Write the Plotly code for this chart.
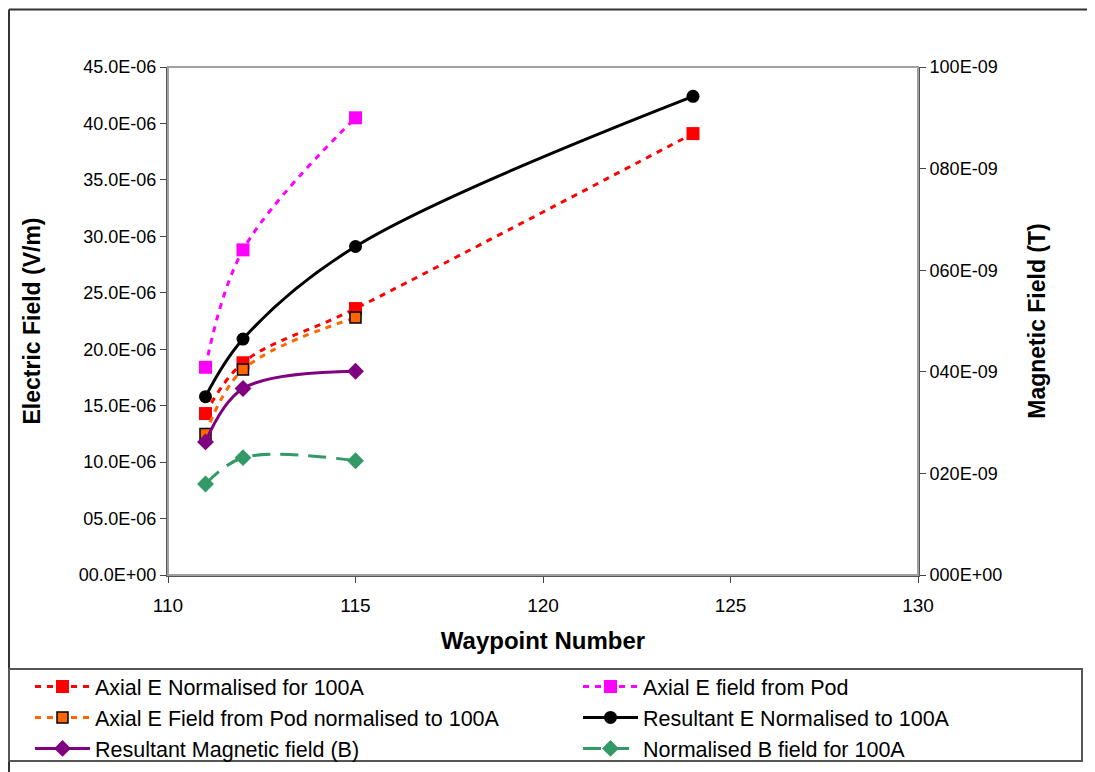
import plotly.graph_objects as go

# waypoints and electric field values (V/m), left axis
wp_axial_norm = [111, 112, 115, 124]
axial_norm = [14.3e-6, 18.8e-6, 23.6e-6, 39.1e-6]

wp_axial_pod = [111, 112, 115]
axial_pod = [18.4e-6, 28.8e-6, 40.5e-6]

wp_pod_norm = [111, 112, 115]
pod_norm = [12.5e-6, 18.2e-6, 22.8e-6]

wp_res_e = [111, 112, 115, 124]
res_e = [15.8e-6, 20.9e-6, 29.1e-6, 42.4e-6]

# magnetic field values (T), right axis
wp_res_b = [111, 112, 115]
res_b = [26.2e-9, 36.7e-9, 40.1e-9]

wp_norm_b = [111, 112, 115]
norm_b = [17.9e-9, 23.1e-9, 22.5e-9]

x_ticks = [110, 115, 120, 125, 130]
y_ticks = [i * 5e-6 for i in range(10)]
y_ticklabels = ["00.0E+00", "05.0E-06", "10.0E-06", "15.0E-06", "20.0E-06",
                "25.0E-06", "30.0E-06", "35.0E-06", "40.0E-06", "45.0E-06"]
y2_ticks = [i * 20e-9 for i in range(6)]
y2_ticklabels = ["000E+00", "020E-09", "040E-09", "060E-09", "080E-09", "100E-09"]

FONT = "Liberation Sans, Arial, sans-serif"

fig = go.Figure()

# left legend column: traces 1, 3, 5 / right column: traces 2, 4, 6
fig.add_trace(go.Scatter(
    x=wp_axial_norm, y=axial_norm, name="Axial E Normalised for 100A", legend="legend",
    mode="lines+markers", line=dict(color="#ff0000", width=3, dash="6px,6px", shape="spline"),
    marker=dict(symbol="square", size=13, color="#ff0000"),
))
fig.add_trace(go.Scatter(
    x=wp_axial_pod, y=axial_pod, name="Axial E field from Pod", legend="legend2",
    mode="lines+markers", line=dict(color="#ff00ff", width=3, dash="6px,6px", shape="spline"),
    marker=dict(symbol="square", size=13, color="#ff00ff"),
))
fig.add_trace(go.Scatter(
    x=wp_pod_norm, y=pod_norm, name="Axial E Field from Pod normalised to 100A", legend="legend",
    mode="lines+markers", line=dict(color="#ff6600", width=3, dash="6px,6px", shape="spline"),
    marker=dict(symbol="square", size=11, color="#ff6600", line=dict(color="#000000", width=1.5)),
))
fig.add_trace(go.Scatter(
    x=wp_res_e, y=res_e, name="Resultant E Normalised to 100A", legend="legend2",
    mode="lines+markers", line=dict(color="#000000", width=3, shape="spline"),
    marker=dict(symbol="circle", size=13, color="#000000"),
))
fig.add_trace(go.Scatter(
    x=wp_res_b, y=res_b, name="Resultant Magnetic field (B)", yaxis="y2", legend="legend",
    mode="lines+markers", line=dict(color="#800080", width=3, shape="spline"),
    marker=dict(symbol="diamond", size=13, color="#800080"),
))
fig.add_trace(go.Scatter(
    x=wp_norm_b, y=norm_b, name="Normalised B field for 100A", yaxis="y2", legend="legend2",
    mode="lines+markers", line=dict(color="#339966", width=3, dash="18px,10px", shape="spline"),
    marker=dict(symbol="diamond", size=13, color="#339966"),
))

# page pixel -> paper coordinates (plot area spans x 168..918, y 67..575 on the page)
def px_x(p):
    return (p - 168) / 750.0

def px_y(p):
    return (575 - p) / 508.0

shapes = [
    # plot area frame
    dict(type="rect", xref="paper", yref="paper", x0=0, x1=1, y0=0, y1=1,
         line=dict(color="#a0a0a0", width=2)),
    # outer chart border
    dict(type="line", xref="paper", yref="paper", x0=px_x(9), x1=px_x(1110), y0=px_y(9.5), y1=px_y(9.5),
         line=dict(color="#333333", width=2)),
    dict(type="line", xref="paper", yref="paper", x0=px_x(9), x1=px_x(9), y0=px_y(9.5), y1=px_y(790),
         line=dict(color="#333333", width=2)),
    # legend box
    dict(type="rect", xref="paper", yref="paper", x0=px_x(9), x1=px_x(1082), y0=px_y(669), y1=px_y(761),
         line=dict(color="#555555", width=2)),
]

legend_style = dict(
    orientation="v", yanchor="top", xanchor="left", itemwidth=55,
    font=dict(family=FONT, size=21.5, color="black"),
    bgcolor="rgba(0,0,0,0)", traceorder="normal",
)

# the page body adds an 8px offset, so margins are shifted to keep the plot area in place
fig.update_layout(
    width=1095, height=772,
    margin=dict(l=160, r=185, t=59, b=205, autoexpand=False),
    paper_bgcolor="white", plot_bgcolor="white",
    font=dict(family=FONT, color="black", size=17),
    showlegend=True,
    legend=dict(x=px_x(30), y=px_y(666), **legend_style),
    legend2=dict(x=px_x(578), y=px_y(666), **legend_style),
    xaxis=dict(
        range=[110, 130], tickvals=x_ticks, ticks="outside", ticklen=6, ticklabelstandoff=6,
        showline=True, linecolor="#555555", linewidth=2, showgrid=False, zeroline=False,
        tickfont=dict(size=19), automargin=False,
        title=dict(text="<b>Waypoint Number</b>", font=dict(size=24), standoff=17),
    ),
    yaxis=dict(
        range=[0, 45e-6], tickvals=y_ticks, ticktext=y_ticklabels, ticks="outside", ticklen=6,
        showline=True, linecolor="#555555", linewidth=2, showgrid=False, zeroline=False,
        tickfont=dict(size=18), automargin=False,
        title=dict(text="<b>Electric Field (V/m)</b>", font=dict(size=23), standoff=32),
    ),
    yaxis2=dict(
        range=[0, 100e-9], tickvals=y2_ticks, ticktext=y2_ticklabels, overlaying="y", side="right",
        ticks="outside", ticklen=6, automargin=False,
        showline=True, linecolor="#555555", linewidth=2, showgrid=False, zeroline=False,
        tickfont=dict(size=18),
        title=dict(text="<b>Magnetic Field (T)</b>", font=dict(size=23), standoff=28),
    ),
    shapes=shapes,
)

fig.write_html("out.html")
